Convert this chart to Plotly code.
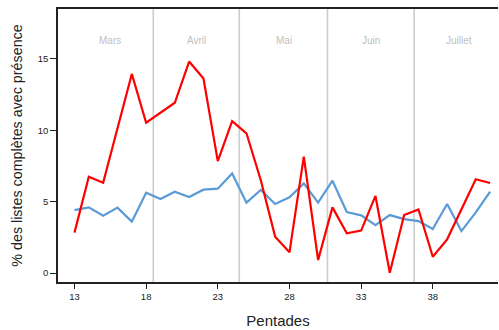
import plotly.graph_objects as go

pentades = list(range(13, 43))
red_values = [2.83, 6.75, 6.33, 10.1, 13.95, 10.53, 11.2, 11.93, 14.82, 13.63,
              7.84, 10.64, 9.79, 6.5, 2.55, 1.45, 8.15, 0.91, 4.6, 2.78,
              2.97, 5.4, 0.02, 4.06, 4.46, 1.14, 2.36, 4.5, 6.57, 6.31]
blue_values = [4.41, 4.6, 4.02, 4.58, 3.6, 5.63, 5.19, 5.7, 5.33, 5.84,
               5.91, 6.98, 4.93, 5.82, 4.84, 5.3, 6.28, 4.93, 6.47, 4.27,
               4.04, 3.36, 4.06, 3.78, 3.64, 3.08, 4.84, 2.94, 4.25, 5.7]
month_bounds = [18.5, 24.5, 30.65, 36.7]
month_names = ["Mars", "Avril", "Mai", "Juin", "Juillet"]
month_centers = [15.5, 21.5, 27.6, 33.7, 39.8]
x_ticks = [13, 18, 23, 28, 33, 38]
y_ticks = [0, 5, 10, 15]

fig = go.Figure()
fig.add_trace(go.Scatter(x=pentades, y=blue_values, mode="lines",
                         line=dict(color="#5b9bd5", width=2.2), showlegend=False))
fig.add_trace(go.Scatter(x=pentades, y=red_values, mode="lines",
                         line=dict(color="#ff0000", width=2.2), showlegend=False))

for b in month_bounds:
    fig.add_shape(type="line", x0=b, x1=b, y0=0, y1=1, xref="x", yref="paper",
                  line=dict(color="#cccccc", width=1.6), layer="below")

for name, c in zip(month_names, month_centers):
    fig.add_annotation(x=c, y=16.3, text=name, showarrow=False,
                       font=dict(color="#c0c0c0", size=10, family="Liberation Sans, Arial"))

fig.update_layout(
    width=499, height=330,
    margin=dict(l=58, r=1, t=9, b=48),
    paper_bgcolor="white", plot_bgcolor="white",
    font=dict(family="Liberation Sans, Arial", color="#222222"),
    xaxis=dict(range=[11.85, 42.55], tickvals=x_ticks, showgrid=False, zeroline=False,
               showline=True, linecolor="#222222", linewidth=1.6, mirror=True,
               ticks="outside", ticklen=5, tickwidth=1, tickcolor="#222222",
               tickfont=dict(size=9.5),
               title=dict(text="Pentades", font=dict(size=15), standoff=14)),
    yaxis=dict(range=[-0.63, 18.5], tickvals=y_ticks, showgrid=False, zeroline=False,
               showline=True, linecolor="#222222", linewidth=1.6,
               ticks="outside", ticklen=6, tickwidth=1, tickcolor="#222222",
               tickfont=dict(size=9.5),
               title=dict(text="% des listes complètes avec présence", font=dict(size=14.3), standoff=12)),
)

fig.write_html("out.html", config={"displayModeBar": False},
               post_script="document.body.style.margin='0';document.body.style.overflow='hidden';")
